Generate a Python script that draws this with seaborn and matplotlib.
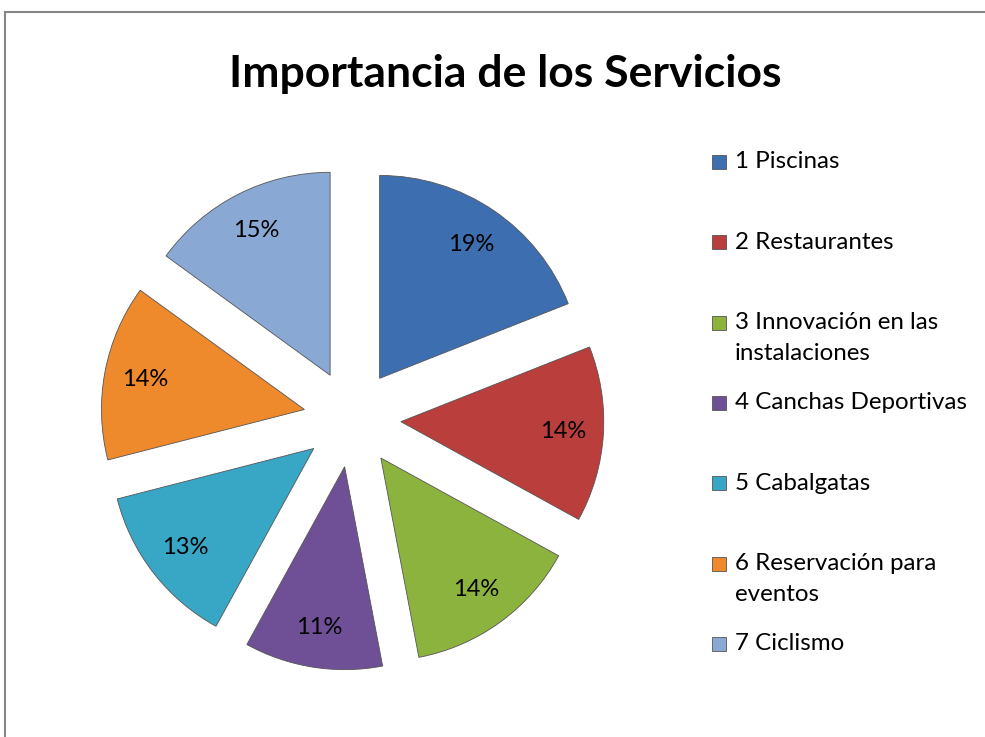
import matplotlib
matplotlib.use("Agg")
import matplotlib.pyplot as plt
import seaborn as sns
from matplotlib.patches import Rectangle

# Datos del gráfico
servicios = [
    "1 Piscinas",
    "2 Restaurantes",
    "3 Innovación en las\ninstalaciones",
    "4 Canchas Deportivas",
    "5 Cabalgatas",
    "6 Reservación para\neventos",
    "7 Ciclismo",
]
porcentajes = [19, 14, 14, 11, 13, 14, 15]
colores = ["#3C6EB0", "#B93E3C", "#8DB33F", "#6F5097", "#38A7C5", "#EE8A2C", "#8AA8D4"]

sns.set_theme(style="white")
plt.rcParams["font.family"] = ["Lato", "DejaVu Sans"]
plt.rcParams["text.color"] = "black"

W, H = 985, 737
fig = plt.figure(figsize=(W / 100, H / 100), dpi=100)

# Marco del área del gráfico (estilo Excel)
fig.add_artist(Rectangle((5 / W, -0.5), 2.0, 1 - 12 / H + 0.5,
                         transform=fig.transFigure, fill=False,
                         edgecolor="#868686", lw=1.5))

# Gráfico de torta separado
paleta = sns.color_palette(colores)
ax = fig.add_axes([0.0486, 0.019, 0.618, 0.826])
wedges, textos, pcts = ax.pie(
    porcentajes,
    colors=paleta,
    explode=[0.24] * len(porcentajes),
    startangle=90,
    counterclock=False,
    autopct="%1.0f%%",
    pctdistance=0.8,
    wedgeprops=dict(edgecolor="#555555", linewidth=0.6),
    textprops=dict(fontsize=17, color="black"),
)
ax.set_xlim(-1.5, 1.5)
ax.set_ylim(-1.5, 1.5)

# Título
fig.text(505 / W, 1 - 87 / H, "Importancia de los Servicios",
         ha="center", va="baseline", fontsize=32, fontweight="bold", color="black")

# Leyenda (entradas repartidas de forma uniforme, como en Excel)
y0, paso, interlinea = 162, 80.3, 31
for i, (etiqueta, color) in enumerate(zip(servicios, paleta)):
    y = y0 + i * paso
    fig.add_artist(Rectangle((712 / W, 1 - (y + 7) / H), 14 / W, 14 / H,
                             transform=fig.transFigure, facecolor=color,
                             edgecolor="#555555", lw=0.6))
    for k, linea in enumerate(etiqueta.split("\n")):
        fig.text(735 / W, 1 - (y + k * interlinea) / H, linea,
                 ha="left", va="center", fontsize=17.4, color="black")

fig.savefig("out.png", dpi=100)
